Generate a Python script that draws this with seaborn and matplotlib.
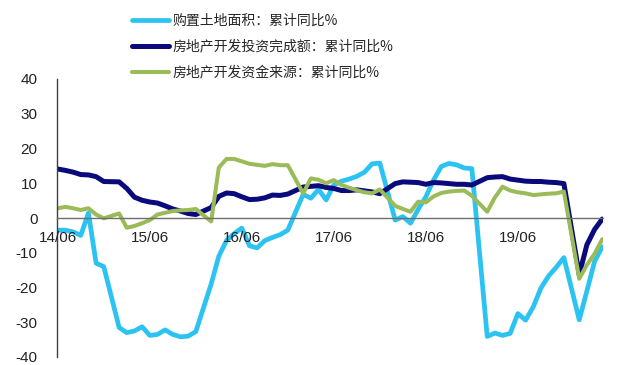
import numpy as np
import pandas as pd
import matplotlib
matplotlib.use("Agg")
import matplotlib.pyplot as plt
import seaborn as sns

# ---- data (monthly cumulative YoY %, Jan merged into Feb) ----
months = [p for p in pd.period_range("2014-06", "2020-05", freq="M") if p.month != 1]

land_area = [  # 购置土地面积：累计同比%
    -3.5, -3.5, -4.0, -5.0, 1.4, -13.0, -14.0,
    -31.5, -33.0, -32.5, -31.3, -33.8, -33.5, -32.2, -33.5, -34.2, -34.0, -32.7,
    -19.0, -11.0, -6.5, -4.5, -2.9, -8.0, -8.6, -6.5, -5.6, -4.8, -3.5,
    6.8, 5.7, 8.2, 5.2, 9.5, 10.6, 11.2, 12.0, 13.2, 15.6, 15.8,
    -0.6, 0.4, -1.5, 2.5, 6.1, 10.9, 14.8, 15.7, 15.3, 14.4, 14.2,
    -34.1, -33.1, -33.8, -33.2, -27.5, -29.4, -25.6, -20.2, -16.7, -14.2, -11.4,
    -29.3, -21.0, -12.5, -8.3,
]
investment = [  # 房地产开发投资完成额：累计同比%
    14.1, 13.7, 13.2, 12.5, 12.4, 11.9, 10.5,
    10.4, 8.5, 6.0, 5.1, 4.6, 4.3, 3.5, 2.6, 2.0, 1.3, 1.0,
    3.0, 6.2, 7.2, 7.0, 6.1, 5.3, 5.4, 5.8, 6.6, 6.5, 6.9,
    8.9, 9.1, 9.3, 8.8, 8.5, 7.9, 7.9, 8.1, 7.8, 7.5, 7.0,
    9.9, 10.4, 10.3, 10.2, 9.7, 10.2, 10.1, 9.9, 9.7, 9.7, 9.5,
    11.6, 11.8, 11.9, 11.2, 10.9, 10.6, 10.5, 10.5, 10.3, 10.2, 9.9,
    -16.3, -7.7, -3.3, -0.3,
]
funding = [  # 房地产开发资金来源：累计同比%
    2.8, 3.2, 2.8, 2.3, 2.8, 1.0, -0.1,
    1.3, -2.8, -2.3, -1.5, -0.6, 1.0, 1.5, 2.0, 2.2, 2.3, 2.6,
    -1.0, 14.5, 17.0, 17.0, 16.3, 15.6, 15.3, 15.0, 15.5, 15.2, 15.2,
    7.1, 11.4, 11.0, 10.0, 10.9, 9.5, 8.7, 8.0, 7.4, 7.1, 8.2,
    3.5, 2.6, 1.8, 4.7, 4.5, 6.2, 7.2, 7.6, 7.8, 7.9, 6.4,
    1.8, 5.9, 9.0, 7.9, 7.4, 7.1, 6.6, 6.8, 7.0, 7.1, 7.6,
    -17.5, -13.5, -10.3, -6.1,
]
series_names = ["购置土地面积：累计同比%", "房地产开发投资完成额：累计同比%", "房地产开发资金来源：累计同比%"]
tick_labels = ["14/06", "15/06", "16/06", "17/06", "18/06", "19/06"]
y_ticks = [-40, -30, -20, -10, 0, 10, 20, 30, 40]

# month index from 2014-06
xpos = [(p.year - 2014) * 12 + p.month - 6 for p in months]

sns.set_theme(style="white")
plt.rcParams["font.family"] = ["Liberation Sans", "Noto Sans CJK SC", "DejaVu Sans"]

fig = plt.figure(figsize=(6.43, 3.65), dpi=100)
ax = fig.add_axes([57 / 643, 1 - 357 / 365, (603 - 57) / 643, (357 - 79) / 365])

colors = ["#2CC3F3", "#0A0A7C", "#9BBB59"]
widths = [3.4, 3.6, 2.9]
for vals, name, c, w in zip([land_area, investment, funding], series_names, colors, widths):
    sns.lineplot(x=xpos, y=vals, color=c, linewidth=w, ax=ax, label=name)

ax.get_legend().remove()
ax.set_xlim(-0.1, 71.1)
ax.set_ylim(-40, 40)
ax.set_axisbelow(False)

ax.spines["top"].set_visible(False)
ax.spines["right"].set_visible(False)
ax.spines["bottom"].set_position(("data", 0))
ax.spines["bottom"].set_color("#6e6e6e")
ax.spines["left"].set_color("#404040")
ax.spines["bottom"].set_linewidth(1.0)
ax.spines["left"].set_linewidth(1.0)

ax.set_xticks([0, 12, 24, 36, 48, 60, 71.1])
ax.set_xticklabels(tick_labels + [""])
ax.set_yticks(y_ticks)
ax.set_yticklabels([str(v) for v in y_ticks])
ax.tick_params(axis="x", direction="out", length=3.5, width=1, color="#6e6e6e",
               pad=5.5, labelsize=11, labelcolor="#222222")
ax.tick_params(axis="y", direction="out", length=3.5, width=1, color="#404040",
               pad=10.5, labelsize=11, labelcolor="#222222")
ax.set_xlabel("")
ax.set_ylabel("")
ax.grid(False)

handles, labels = ax.get_legend_handles_labels()
fig.legend(handles, labels, loc="upper left", bbox_to_anchor=(0.205, 0.962),
           frameon=False, borderpad=0, borderaxespad=0, handlelength=2.65,
           handletextpad=0.25, labelspacing=0.86,
           prop={"family": ["Noto Sans CJK SC", "DejaVu Sans"], "size": 10})

fig.savefig("out.png", dpi=100)
